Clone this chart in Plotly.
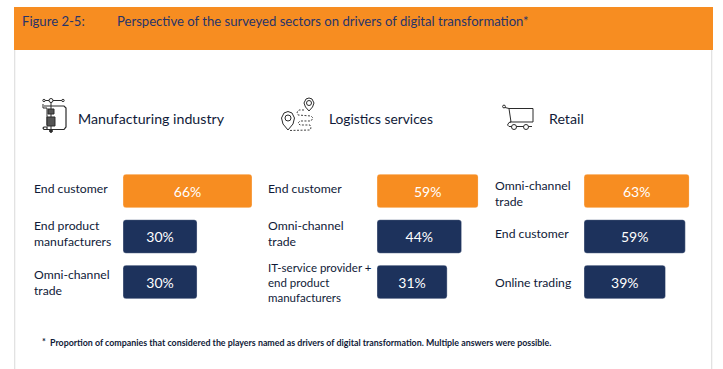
import plotly.graph_objects as go

W, H = 723, 369

# ---- data ----
sectors = ["Manufacturing industry", "Logistics services", "Retail"]
manufacturing_labels = ["End customer", "End product<br>manufacturers", "Omni-channel<br>trade"]
manufacturing_values = [66, 30, 30]
logistics_labels = ["End customer", "Omni-channel<br>trade", "IT-service provider +<br>end product<br>manufacturers"]
logistics_values = [59, 44, 31]
retail_labels = ["Omni-channel<br>trade", "End customer", "Online trading"]
retail_values = [63, 59, 39]
title_number = "Figure 2-5:"
title_text = "Perspective of the surveyed sectors on drivers of digital transformation*"
footnote = "Proportion of companies that considered the players named as drivers of digital transformation. Multiple answers were possible."

ORANGE = "#f78d21"
NAVY = "#1d325c"
INK = "#101a38"
TITLE_INK = "#27346a"
FONT = "Lato"
ROWS = ["a", "b", "c"]


def px(x):
    return x / W


def py(y):
    return 1 - y / H


# panel layout: left edge px, label x px, px-per-percent and px-at-zero of the (non-zero-based) source bars
panels = [
    dict(lab=manufacturing_labels, val=manufacturing_values, x0=123, lx=32, s=1.528, c=28.2, ys=[3, 3, 0], hx=76,
         hs=14.2, ls=[12.2, 12.2, 12.2]),
    dict(lab=logistics_labels, val=logistics_values, x0=377, lx=266, s=1.111, c=35.7, ys=[3, 3, 0], hx=327,
         hs=13.8, ls=[12.2, 12.2, 11.5]),
    dict(lab=retail_labels, val=retail_values, x0=584, lx=492.5, s=0.992, c=42.8, ys=[-2, 3, 0], hx=547,
         hs=14.2, ls=[12.2, 12.2, 12.2]),
]

fig = go.Figure()
annots, shapes = [], []
layout_axes = {}

row_top, row_bottom = 168.25, 304.75

for i, p in enumerate(panels):
    n = "" if i == 0 else str(i + 1)
    base = -p["c"] / p["s"]
    vmax = max(p["val"])
    x1 = p["x0"] + p["s"] * vmax + p["c"]
    colors = [ORANGE if v == vmax else NAVY for v in p["val"]]
    fig.add_trace(go.Bar(
        x=[v - base for v in p["val"]], y=ROWS, base=base, orientation="h",
        marker=dict(color=colors, line=dict(color="rgba(255,255,255,0.35)", width=1)),
        text=[f"{v}%" for v in p["val"]], textposition="inside", insidetextanchor="middle",
        textangle=0, constraintext="none",
        textfont=dict(family=FONT, size=14, color="white"),
        hoverinfo="skip", showlegend=False, xaxis=f"x{n}", yaxis=f"y{n}",
    ))
    layout_axes[f"xaxis{n}"] = dict(domain=[px(p["x0"]), px(x1)], range=[base, vmax], visible=False, fixedrange=True)
    layout_axes[f"yaxis{n}"] = dict(domain=[py(row_bottom), py(row_top)], categoryorder="array",
                                    categoryarray=ROWS[::-1], range=[-0.5, 2.5], autorange=False,
                                    visible=False, fixedrange=True, anchor=f"x{n}")
    for r, lab, ys, ls in zip(ROWS, p["lab"], p["ys"], p["ls"]):
        annots.append(dict(text=lab, xref="paper", yref=f"y{n}", x=px(p["lx"]), y=r, xanchor="left",
                           yanchor="middle", align="left", showarrow=False, yshift=ys,
                           font=dict(family=FONT, size=ls, color=INK)))
    annots.append(dict(text=sectors[i], xref="paper", yref="paper", x=px(p["hx"]), y=py(119), xanchor="left",
                       yanchor="middle", showarrow=False, font=dict(family=FONT, size=p["hs"], color=INK)))


def txt(s, x, y, size, color, bold=False):
    annots.append(dict(text=f"<b>{s}</b>" if bold else s, xref="paper", yref="paper", x=px(x), y=py(y),
                       xanchor="left", yanchor="middle", showarrow=False,
                       font=dict(family=FONT, size=size, color=color)))


txt(title_number, 19.5, 20.5, 13.1, TITLE_INK)
txt(title_text, 115, 20.5, 13.1, TITLE_INK)
txt("*", 40, 341, 9, INK, True)
txt(footnote, 48, 342, 8.85, INK, True)


def rect(x0, y0, x1, y1, fill, layer="below"):
    shapes.append(dict(type="rect", xref="paper", yref="paper", x0=px(x0), x1=px(x1), y0=py(y0), y1=py(y1),
                       fillcolor=fill, line=dict(width=0), layer=layer))


rect(14, 7, 713, 50, ORANGE)
rect(14, 50, 15.3, 369, "#e2e2e2")
rect(711, 50, 712.3, 369, "#e2e2e2")


def path(points, close=False, color="#2b2b2b", width=1, dash="solid", fill=None):
    d = "M " + " L ".join(f"{px(a):.5f},{py(b):.5f}" for a, b in points) + (" Z" if close else "")
    shapes.append(dict(type="path", xref="paper", yref="paper", path=d, fillcolor=fill,
                       line=dict(color=color, width=width, dash=dash)))


def circle(cx, cy, r, color="#2b2b2b", width=1, fill="white"):
    shapes.append(dict(type="circle", xref="paper", yref="paper", x0=px(cx - r), x1=px(cx + r),
                       y0=py(cy + r), y1=py(cy - r), fillcolor=fill, line=dict(color=color, width=width)))


# clamp icon
path([(44, 100.5), (63, 100.5)])
circle(44, 100.5, 1.2)
circle(51, 100.5, 2)
circle(63, 100.5, 1.2)
path([(51, 102), (51, 131)], width=1)
path([(44, 106), (64, 106), (66, 108), (66, 127), (64, 129.5), (44, 129.5), (43, 128), (44, 127), (47, 127),
      (47, 129)], width=1.2)
path([(43, 104), (43, 108), (47, 108), (47, 125)], width=1)
path([(48, 109), (54, 109), (54, 114), (48, 114)], close=True, width=1, fill="#555555")
path([(47, 117), (55, 117), (55, 126), (47, 126)], close=True, width=1, fill="#555555")
circle(51, 131, 1.4, fill="#2b2b2b")

# route icon
path([(288, 130), (283, 124), (281.5, 118), (284, 113), (288, 111.5), (292, 113), (294.5, 118), (293, 124)],
     close=True)
circle(288, 118, 3)
path([(309, 111), (305.5, 107), (304, 103), (306, 99), (309, 98), (312, 99), (314, 103), (312.5, 107)], close=True)
circle(309, 103, 2.5)
path([(304, 110), (299, 110), (297, 112), (298, 115), (311, 116), (313, 118), (311, 121), (300, 121), (298, 123),
      (300, 125), (310, 125), (311, 128), (310, 130), (289, 130.5)], dash="2px,1.5px", width=0.9)

# cart icon
circle(504, 106.5, 1.4)
path([(505, 107.5), (509, 108.5), (533, 108.5), (533, 122), (510, 122)])
path([(509, 108.5), (511, 122), (509, 122.5), (507.5, 125), (509, 126.5), (532, 126.5)])
circle(514, 127, 2.5)
circle(526, 127, 2.5)

fig.update_layout(
    width=W, height=H, margin=dict(l=0, r=0, t=0, b=0), paper_bgcolor="white", plot_bgcolor="rgba(0,0,0,0)",
    bargap=0.26, barcornerradius=3, annotations=annots, shapes=shapes, **layout_axes,
)
fig.write_html("out.html", config={"displayModeBar": False},
               post_script="document.body.style.margin='0';document.body.style.overflow='hidden';")
